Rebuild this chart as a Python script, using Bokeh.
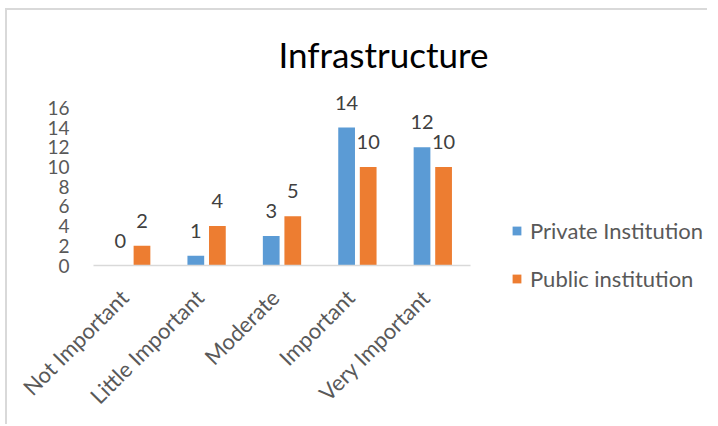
from bokeh.plotting import figure
from bokeh.models import (ColumnDataSource, Range1d, FixedTicker, LabelSet,
                          Label, Legend, LegendItem)
from bokeh.core.properties import value
from bokeh.transform import dodge
from bokeh.embed import file_html
from bokeh.resources import INLINE
import math

categories = ["Not Important", "Little Important", "Moderate", "Important", "Very Important"]
private_inst = [0, 1, 3, 14, 12]
public_inst = [2, 4, 5, 10, 10]
y_ticks = [0, 2, 4, 6, 8, 10, 12, 14, 16]
series_names = ["Private Institution", "Public institution"]
title_text = "Infrastructure"

BLUE = "#5b9bd5"
ORANGE = "#ed7d31"
FONT = "Lato"

# layout constants (pixels)
PX_CAT = 75.4      # px per category
PX_UNIT = 9.85     # px per y unit
FRAME_W = 700
FRAME_H = 414
BASE_Y = 255       # px from frame top to y = 0
AXIS_X = 86        # px from frame left to x = 0

n = len(categories)
src = ColumnDataSource(dict(
    pos=[i + 0.5 for i in range(n)],
    cat=categories,
    zero=[0] * n,
    priv=private_inst,
    pub=public_inst,
    priv_lbl=[str(v) for v in private_inst],
    pub_lbl=[str(v) for v in public_inst],
))

x_start = -AXIS_X / PX_CAT
y_top = BASE_Y / PX_UNIT
y_bot = -(FRAME_H - BASE_Y) / PX_UNIT
p = figure(x_range=Range1d(x_start, x_start + FRAME_W / PX_CAT), y_range=Range1d(y_bot, y_top),
           frame_width=FRAME_W, frame_height=FRAME_H,
           output_backend="svg", toolbar_location=None,
           min_border_left=0, min_border_right=0, min_border_top=0, min_border_bottom=0)
p.outline_line_color = None
p.grid.grid_line_color = None
p.styles = {"margin-left": "5px", "margin-top": "8px",
            "border-top": "2px solid #d9d9d9", "border-left": "2px solid #d9d9d9"}

r1 = p.vbar(x=dodge("pos", -0.143), top="priv", width=0.222, source=src,
            fill_color=BLUE, line_color=None)
r2 = p.vbar(x=dodge("pos", 0.143), top="pub", width=0.222, source=src,
            fill_color=ORANGE, line_color=None)

for col, lbl, off in (("priv", "priv_lbl", -0.143), ("pub", "pub_lbl", 0.143)):
    ls = LabelSet(x=dodge("pos", off), y=col, text=lbl, source=src,
                  y_offset=25, text_align="center", text_baseline="middle",
                  text_font=value(FONT), text_font_size=value("20px"),
                  text_color=value("#404040"))
    p.add_layout(ls)

# category labels (rotated)
cat_labels = LabelSet(x="pos", y="zero", text="cat", source=src, angle=math.pi / 4,
                      x_offset=-7, y_offset=-28, text_align="right", text_baseline="middle",
                      text_font=value(FONT), text_font_size=value("22px"),
                      text_color=value("#595959"))
p.add_layout(cat_labels)

# y axis drawn at x = 0 inside the frame
p.yaxis.ticker = FixedTicker(ticks=y_ticks)
p.yaxis.fixed_location = 0
p.yaxis.axis_line_color = None
p.yaxis.major_tick_line_color = None
p.yaxis.minor_tick_line_color = None
p.yaxis.major_label_standoff = 18
p.yaxis.major_label_text_font = FONT
p.yaxis.major_label_text_font_size = "19px"
p.yaxis.major_label_text_color = "#595959"

# x axis: baseline only, at y = 0
p.xaxis.ticker = FixedTicker(ticks=[])
p.xaxis.fixed_location = 0
p.xaxis.bounds = (0, n)
p.xaxis.axis_line_color = "#d9d9d9"
p.xaxis.axis_line_width = 1.5
p.xaxis.major_tick_line_color = None
p.xaxis.minor_tick_line_color = None

# title
p.add_layout(Label(x=(383 - 93) / PX_CAT, y=(265 - 53) / PX_UNIT, text=title_text,
                   text_align="center", text_baseline="middle", text_font=FONT,
                   text_font_size="35px", text_color="#000000"))

legend = Legend(items=[LegendItem(label=series_names[0], renderers=[r1]),
                       LegendItem(label=series_names[1], renderers=[r2])],
                location=(504, FRAME_H - (292 - 10)), orientation="vertical")
legend.border_line_color = None
legend.background_fill_alpha = 0
legend.padding = 0
legend.margin = 0
legend.spacing = 21
legend.glyph_width = 11
legend.glyph_height = 11
legend.label_standoff = 8
legend.label_text_font = FONT
legend.label_text_font_size = "22px"
legend.label_text_color = "#595959"
p.add_layout(legend, "center")

open("out.html", "w").write(file_html(p, INLINE))
